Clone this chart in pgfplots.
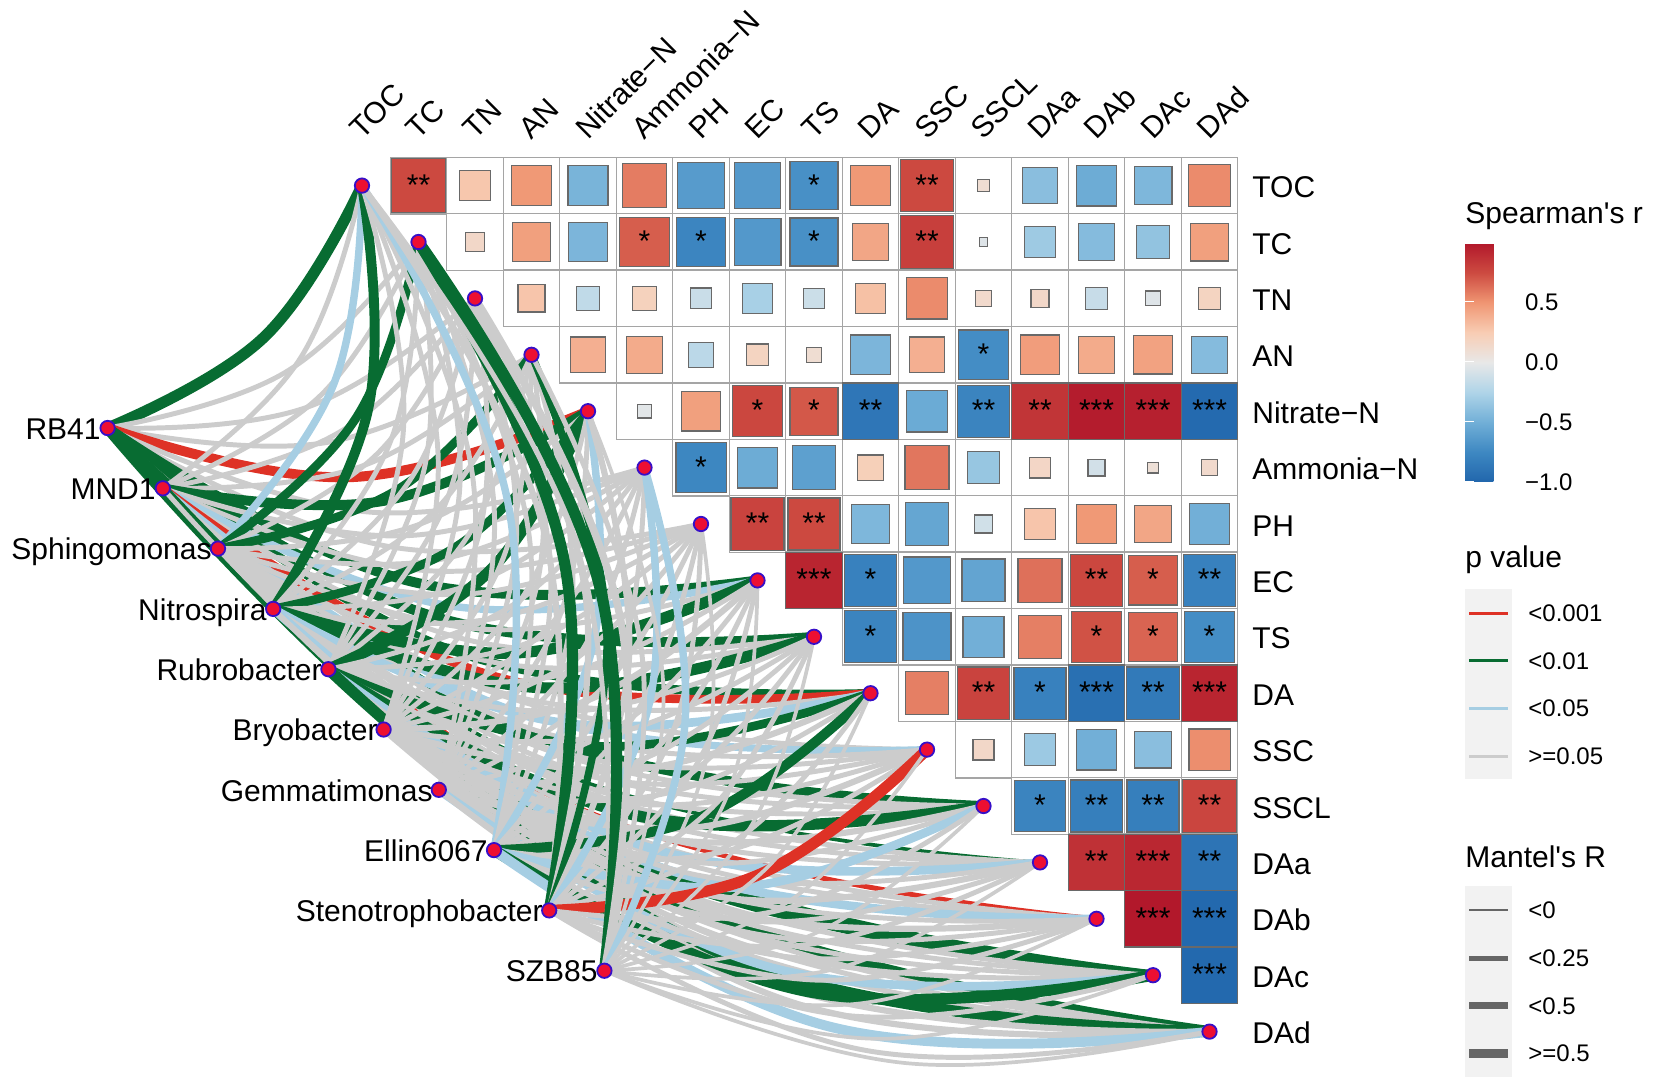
\documentclass[border=0pt]{standalone}
\usepackage{fontspec}
\setmainfont{Liberation Sans}
\usepackage{pgfplots}
\usepackage{pgfplotstable}
\pgfplotsset{compat=1.18}

\definecolor{r}{RGB}{222,50,38}
\definecolor{g}{RGB}{8,108,50}
\definecolor{b}{RGB}{166,206,227}
\definecolor{n}{RGB}{204,204,204}
\definecolor{gridc}{RGB}{165,165,165}
\definecolor{edgec}{RGB}{105,105,105}
\definecolor{panel}{RGB}{242,242,242}
\definecolor{keyc}{RGB}{102,102,102}
\definecolor{nodefill}{RGB}{237,15,50}
\definecolor{nodeedge}{RGB}{55,15,200}

\pgfplotsset{colormap={rdbu}{rgb255=(33,102,172) rgb255=(62,136,194) rgb255=(113,175,215) rgb255=(175,212,232) rgb255=(232,232,232) rgb255=(248,205,180) rgb255=(240,150,115) rgb255=(205,75,65) rgb255=(178,24,43)}}

\newcommand\lab{\fontsize{15}{18}\selectfont}
\newcommand\keylab{\fontsize{12}{14}\selectfont}

% x y in picture pixels, r = Spearman, s = square side as share of the cell
\pgfplotstableread{
x y r s
418.5 185.6 .75 .95
475 185.6 .27 .54
531.5 185.6 .48 .70
588 185.6 -.47 .71
644.5 185.6 .58 .78
701 185.6 -.63 .82
757.5 185.6 -.64 .82
814 185.6 -.70 .85
870.5 185.6 .48 .70
927 185.6 .75 .93
983.5 185.6 .10 .21
1040 185.6 -.40 .63
1096.5 185.6 -.52 .72
1153 185.6 -.45 .67
1209.5 185.6 .53 .74
475 242 .15 .33
531.5 242 .45 .68
588 242 -.46 .70
644.5 242 .68 .88
701 242 -.77 .88
757.5 242 -.65 .83
814 242 -.70 .85
870.5 242 .42 .65
927 242 .80 .93
983.5 242 -.05 .15
1040 242 -.32 .56
1096.5 242 -.42 .65
1153 242 -.37 .59
1209.5 242 .45 .67
531.5 298.4 .28 .48
588 298.4 -.18 .42
644.5 298.4 .20 .42
701 298.4 -.14 .37
757.5 298.4 -.28 .53
814 298.4 -.13 .36
870.5 298.4 .30 .53
927 298.4 .53 .73
983.5 298.4 .13 .29
1040 298.4 .15 .32
1096.5 298.4 -.15 .40
1153 298.4 -.05 .26
1209.5 298.4 .18 .40
588 354.8 .38 .63
644.5 354.8 .40 .65
701 354.8 -.20 .44
757.5 354.8 .18 .38
814 354.8 .10 .27
870.5 354.8 -.46 .70
927 354.8 .38 .63
983.5 354.8 -.72 .88
1040 354.8 .46 .70
1096.5 354.8 .40 .65
1153 354.8 .44 .68
1209.5 354.8 -.42 .65
644.5 411.2 -.03 .24
701 411.2 .45 .70
757.5 411.2 .76 .90
814 411.2 .70 .85
870.5 411.2 -.88 1
927 411.2 -.53 .74
983.5 411.2 -.78 .92
1040 411.2 .85 1
1096.5 411.2 .97 1
1153 411.2 .95 1
1209.5 411.2 -.97 1
701 467.6 -.76 .89
757.5 467.6 -.52 .72
814 467.6 -.60 .77
870.5 467.6 .22 .45
927 467.6 .60 .78
983.5 467.6 -.35 .56
1040 467.6 .16 .37
1096.5 467.6 -.10 .30
1153 467.6 .08 .19
1209.5 467.6 .13 .29
757.5 524 .78 .94
814 524 .75 .92
870.5 524 -.45 .68
927 524 -.56 .76
983.5 524 -.11 .32
1040 524 .28 .54
1096.5 524 .48 .70
1153 524 .42 .66
1209.5 524 -.50 .72
814 580.4 .93 1
870.5 580.4 -.80 .92
927 580.4 -.65 .83
983.5 580.4 -.57 .76
1040 580.4 .62 .78
1096.5 580.4 .76 .92
1153 580.4 .68 .87
1209.5 580.4 -.80 .92
870.5 636.8 -.78 .92
927 636.8 -.68 .85
983.5 636.8 -.50 .73
1040 636.8 .57 .77
1096.5 636.8 .72 .90
1153 636.8 .66 .87
1209.5 636.8 -.72 .90
927 693.2 .57 .76
983.5 693.2 .78 .93
1040 693.2 -.80 .92
1096.5 693.2 -.93 1
1153 693.2 -.85 .93
1209.5 693.2 .93 1
983.5 749.6 .15 .37
1040 749.6 -.33 .56
1096.5 749.6 -.50 .72
1153 749.6 -.40 .65
1209.5 749.6 .52 .73
1040 806 -.78 .90
1096.5 806 -.82 .92
1153 806 -.82 .92
1209.5 806 .77 .95
1096.5 862.4 .87 1
1153 862.4 .92 1
1209.5 862.4 -.90 1
1153 918.8 .99 1
1209.5 918.8 -.98 1
1209.5 975.2 -.98 1
}\cells

\pgfplotstableread{
x y t
418.5 185.6 **
814 185.6 *
927 185.6 **
644.5 242 *
701 242 *
814 242 *
927 242 **
983.5 354.8 *
757.5 411.2 *
814 411.2 *
870.5 411.2 **
983.5 411.2 **
1040 411.2 **
1096.5 411.2 ***
1153 411.2 ***
1209.5 411.2 ***
701 467.6 *
757.5 524 **
814 524 **
814 580.4 ***
870.5 580.4 *
1096.5 580.4 **
1153 580.4 *
1209.5 580.4 **
870.5 636.8 *
1096.5 636.8 *
1153 636.8 *
1209.5 636.8 *
983.5 693.2 **
1040 693.2 *
1096.5 693.2 ***
1153 693.2 **
1209.5 693.2 ***
1040 806 *
1096.5 806 **
1153 806 **
1209.5 806 **
1096.5 862.4 **
1153 862.4 ***
1209.5 862.4 **
1153 918.8 ***
1209.5 918.8 ***
1209.5 975.2 ***
}\stars

\pgfplotstableread{
x y
362 185.6
418.5 242
475 298.4
531.5 354.8
588 411.2
644.5 467.6
701 524
757.5 580.4
814 636.8
870.5 693.2
927 749.6
983.5 806
1040 862.4
1096.5 918.8
1153 975.2
1209.5 1031.6
107.6 428
162.8 488.3
218 548.6
273.2 608.9
328.4 669.2
383.6 729.5
438.8 789.8
494 850.1
549.2 910.4
604.4 970.7
}\nodepoints

% environment ends of the Mantel links
\def\eA{362,185.6}\def\eB{418.5,242}\def\eC{475,298.4}\def\eD{531.5,354.8}
\def\eE{588,411.2}\def\eF{644.5,467.6}\def\eG{701,524}\def\eH{757.5,580.4}
\def\eI{814,636.8}\def\eJ{870.5,693.2}\def\eK{927,749.6}\def\eL{983.5,806}
\def\eM{1040,862.4}\def\eN{1096.5,918.8}\def\eO{1153,975.2}\def\eP{1209.5,1031.6}
% one link: colour, width class, point on the bow, end
\newcommand\E[4]{\edef\tmp{\noexpand\addplot[color=#1,line width=#2*0.62pt,smooth,tension=0.7,forget plot] coordinates {(\st)(#3)(#4)};}\tmp}

\begin{document}
\begin{tikzpicture}
\path[use as bounding box] (0,0) rectangle (827pt,541.5pt);
\begin{axis}[
    scale only axis, width=827pt, height=541.5pt,
    xmin=0, xmax=1654, ymin=0, ymax=1083, y dir=reverse,
    hide axis, clip=false,
    colormap name=rdbu, point meta min=-1, point meta max=0.99,
    colorbar,
    colorbar style={
        at={(0.88573,0.77562)}, anchor=north west, xshift=0pt,
        scale only axis, width=23.5pt, height=119.5pt,
        y dir=normal,
        ytick={-1,-0.5,0,0.5}, yticklabels={−1.0,−0.5,0.0,0.5},
        ytick pos=both, yticklabel pos=right,
        tick align=inside, major tick length=4.7pt,
        tick style={draw=white,line width=0.5pt},
        axis line style={draw=none},
        yticklabel style={font=\keylab,xshift=3pt},
    },
]
% grid of cells
\addplot[only marks,mark=square*,mark size=14.125pt,
    mark options={draw=gridc,fill=white,line width=0.7pt},forget plot]
    table[x=x,y=y] {\cells};
% squares
\addplot[scatter,only marks,mark=square*,scatter src=explicit,
    mark options={line width=0.6pt},
    scatter/use mapped color={draw=edgec,fill=mapped color},
    visualization depends on={14.1*\thisrow{s} \as \ms},
    scatter/@pre marker code/.append style={/tikz/mark size=\ms pt},forget plot]
    table[x=x,y=y,meta=r] {\cells};
\addplot[only marks,mark=none,point meta=explicit symbolic,nodes near coords,
    nodes near coords align=center,
    every node near coord/.append style={font=\lab,yshift=0.4pt,inner sep=0pt},forget plot]
    table[x=x,y=y,meta=t] {\stars};

% RB41
\def\st{107.6,428}
\E g9{263.9,337.3}\eA \E n4{285.4,372.3}\eB \E n4{306.9,407.3}\eC \E n4{328.3,442.2}\eD
\E r8{349.8,477.2}\eE \E n4{371.3,512.2}\eF \E n4{392.8,547.2}\eG \E g8{414.3,582.2}\eH
\E g8{435.7,617.1}\eI \E g7{457.2,652.1}\eJ \E n4{478.7,687.1}\eK \E g8{500.2,722.1}\eL
\E g3{521.7,757.1}\eM \E r4{543.1,792}\eN \E g8{564.6,827}\eO \E g9{586.1,862}\eP
% MND1
\def\st{162.8,488.3}
\E n4{298.7,360.8}\eA \E n4{320.2,395.8}\eB \E n4{341.7,430.8}\eC \E n4{363.1,465.7}\eD
\E g8{384.6,500.7}\eE \E n4{406.1,535.7}\eF \E n4{427.6,570.7}\eG \E b6{449.1,605.7}\eH
\E n4{470.5,640.6}\eI \E r7{492,675.6}\eJ \E b6{513.5,710.6}\eK \E n4{535,745.6}\eL
\E n4{556.5,780.6}\eM \E n4{577.9,815.5}\eN \E g8{599.4,850.5}\eO \E n4{620.9,885.5}\eP
% Sphingomonas
\def\st{218,548.6}
\E b6{333.6,384.4}\eA \E g7{355.1,419.4}\eB \E n4{376.6,454.4}\eC \E g7{398,489.3}\eD
\E n4{419.5,524.3}\eE \E n4{441,559.3}\eF \E n4{462.5,594.3}\eG \E n4{484,629.3}\eH
\E n4{505.4,664.2}\eI \E n4{526.9,699.2}\eJ \E n4{548.4,734.2}\eK \E n4{569.9,769.2}\eL
\E n4{591.4,804.2}\eM \E n4{612.8,839.1}\eN \E n4{634.3,874.1}\eO \E n4{655.8,909.1}\eP
% Nitrospira
\def\st{273.2,608.9}
\E g8{368.4,407.9}\eA \E n4{389.9,442.9}\eB \E n4{411.4,477.9}\eC \E n4{432.8,512.8}\eD
\E g7{454.3,547.8}\eE \E n4{475.8,582.8}\eF \E n4{497.3,617.8}\eG \E g9{518.8,652.8}\eH
\E g9{540.2,687.7}\eI \E b7{561.7,722.7}\eJ \E n4{583.2,757.7}\eK \E n4{604.7,792.7}\eL
\E n4{626.2,827.7}\eM \E b7{647.6,862.6}\eN \E n4{669.1,897.6}\eO \E n4{690.6,932.6}\eP
% Rubrobacter
\def\st{328.4,669.2}
\E n4{403.3,431.4}\eA \E n4{424.8,466.4}\eB \E n4{446.3,501.4}\eC \E n4{467.7,536.3}\eD
\E g9{489.2,571.3}\eE \E n4{510.7,606.3}\eF \E n4{532.2,641.3}\eG \E n4{553.7,676.3}\eH
\E n4{575.1,711.2}\eI \E g7{596.6,746.2}\eJ \E n4{618.1,781.2}\eK \E g9{639.6,816.2}\eL
\E b7{661.1,851.2}\eM \E n4{682.5,886.1}\eN \E n4{704,921.1}\eO \E g9{725.5,956.1}\eP
% Bryobacter
\def\st{383.6,729.5}
\E n4{438.1,455}\eA \E n4{459.6,490}\eB \E n4{481.1,525}\eC \E n4{502.5,559.9}\eD
\E n4{524,594.9}\eE \E n4{545.5,629.9}\eF \E n4{567,664.9}\eG \E n5{588.5,699.9}\eH
\E n4{609.9,734.8}\eI \E n5{631.4,769.8}\eJ \E n4{652.9,804.8}\eK \E n5{674.4,839.8}\eL
\E n4{695.9,874.8}\eM \E n5{717.3,909.7}\eN \E n4{738.8,944.7}\eO \E n5{760.3,979.7}\eP
% Gemmatimonas
\def\st{438.8,789.8}
\E n4{472.9,478.5}\eA \E n4{494.4,513.5}\eB \E n4{515.9,548.5}\eC \E n4{537.3,583.4}\eD
\E n4{558.8,618.4}\eE \E n4{580.3,653.4}\eF \E n4{601.8,688.4}\eG \E n4{623.3,723.4}\eH
\E n4{644.7,758.3}\eI \E n4{666.2,793.3}\eJ \E n5{687.7,828.3}\eK \E n4{709.2,863.3}\eL
\E n5{730.7,898.3}\eM \E n4{752.1,933.2}\eN \E b7{773.6,968.2}\eO \E n5{795.1,1003.2}\eP
% Ellin6067
\def\st{494,850.1}
\E b6{507.8,502}\eA \E n4{529.3,537}\eB \E n4{550.8,572}\eC \E n4{572.2,606.9}\eD
\E b6{593.7,641.9}\eE \E n4{615.2,676.9}\eF \E n4{636.7,711.9}\eG \E n4{658.2,746.9}\eH
\E n4{679.6,781.8}\eI \E g8{701.1,816.8}\eJ \E n4{722.6,851.8}\eK \E b7{744.1,886.8}\eL
\E n4{765.6,921.8}\eM \E n4{787,956.7}\eN \E g9{808.5,991.7}\eO \E b8{830,1026.7}\eP
% Stenotrophobacter
\def\st{549.2,910.4}
\E n5{542.6,525.5}\eA \E g9{564.1,560.5}\eB \E n5{585.6,595.5}\eC \E g6{607,630.4}\eD
\E n5{628.5,665.4}\eE \E b6{650,700.4}\eF \E n4{671.5,735.4}\eG \E n4{693,770.4}\eH
\E n4{714.4,805.3}\eI \E n4{735.9,840.3}\eJ \E r9{757.4,875.3}\eK \E n4{778.9,910.3}\eL
\E n4{800.4,945.3}\eM \E n4{821.8,980.2}\eN \E n4{843.3,1015.2}\eO \E n4{864.8,1050.2}\eP
% SZB85
\def\st{604.4,970.7}
\E n4{577.5,549.1}\eA \E g9{599,584.1}\eB \E n6{620.5,619.1}\eC \E n4{641.9,654}\eD
\E n3{663.4,689}\eE \E b6{684.9,724}\eF \E n3{706.4,759}\eG \E n3{727.9,794}\eH
\E n3{749.3,828.9}\eI \E n3{770.8,863.9}\eJ \E n3{792.3,898.9}\eK \E n3{813.8,933.9}\eL
\E n3{835.3,968.9}\eM \E n3{856.7,1003.8}\eN \E n3{878.2,1038.8}\eO \E n3{905,1063}\eP

\addplot[only marks,mark=*,mark size=3.6pt,
    mark options={fill=nodefill,draw=nodeedge,line width=0.9pt},forget plot]
    table[x=x,y=y] {\nodepoints};

% species labels
\node[anchor=base east,font=\lab,inner sep=0pt] at (axis cs:101,439) {RB41};
\node[anchor=base east,font=\lab,inner sep=0pt] at (axis cs:156,499) {MND1};
\node[anchor=base east,font=\lab,inner sep=0pt] at (axis cs:212,559.6) {Sphingomonas};
\node[anchor=base east,font=\lab,inner sep=0pt] at (axis cs:267,620) {Nitrospira};
\node[anchor=base east,font=\lab,inner sep=0pt] at (axis cs:322,680) {Rubrobacter};
\node[anchor=base east,font=\lab,inner sep=0pt] at (axis cs:378,740.5) {Bryobacter};
\node[anchor=base east,font=\lab,inner sep=0pt] at (axis cs:433,801) {Gemmatimonas};
\node[anchor=base east,font=\lab,inner sep=0pt] at (axis cs:488,861) {Ellin6067};
\node[anchor=base east,font=\lab,inner sep=0pt] at (axis cs:543,921.4) {Stenotrophobacter};
\node[anchor=base east,font=\lab,inner sep=0pt] at (axis cs:598,981.7) {SZB85};

% row labels
\node[anchor=base west,font=\lab,inner sep=0pt] at (axis cs:1252,197.5) {TOC};
\node[anchor=base west,font=\lab,inner sep=0pt] at (axis cs:1252,254) {TC};
\node[anchor=base west,font=\lab,inner sep=0pt] at (axis cs:1252,310.4) {TN};
\node[anchor=base west,font=\lab,inner sep=0pt] at (axis cs:1252,366.7) {AN};
\node[anchor=base west,font=\lab,inner sep=0pt] at (axis cs:1252,423) {Nitrate−N};
\node[anchor=base west,font=\lab,inner sep=0pt] at (axis cs:1252,479.5) {Ammonia−N};
\node[anchor=base west,font=\lab,inner sep=0pt] at (axis cs:1252,536) {PH};
\node[anchor=base west,font=\lab,inner sep=0pt] at (axis cs:1252,592.3) {EC};
\node[anchor=base west,font=\lab,inner sep=0pt] at (axis cs:1252,648.7) {TS};
\node[anchor=base west,font=\lab,inner sep=0pt] at (axis cs:1252,705) {DA};
\node[anchor=base west,font=\lab,inner sep=0pt] at (axis cs:1252,761.5) {SSC};
\node[anchor=base west,font=\lab,inner sep=0pt] at (axis cs:1252,818) {SSCL};
\node[anchor=base west,font=\lab,inner sep=0pt] at (axis cs:1252,874.3) {DAa};
\node[anchor=base west,font=\lab,inner sep=0pt] at (axis cs:1252,930.7) {DAb};
\node[anchor=base west,font=\lab,inner sep=0pt] at (axis cs:1252,987) {DAc};
\node[anchor=base west,font=\lab,inner sep=0pt] at (axis cs:1252,1043.5) {DAd};

% column labels
\node[anchor=base west,rotate=45,font=\lab,inner sep=0pt] at (axis cs:362,141) {TOC};
\node[anchor=base west,rotate=45,font=\lab,inner sep=0pt] at (axis cs:418.5,141) {TC};
\node[anchor=base west,rotate=45,font=\lab,inner sep=0pt] at (axis cs:475,141) {TN};
\node[anchor=base west,rotate=45,font=\lab,inner sep=0pt] at (axis cs:531.5,141) {AN};
\node[anchor=base west,rotate=45,font=\lab,inner sep=0pt] at (axis cs:588,141) {Nitrate−N};
\node[anchor=base west,rotate=45,font=\lab,inner sep=0pt] at (axis cs:644.5,141) {Ammonia−N};
\node[anchor=base west,rotate=45,font=\lab,inner sep=0pt] at (axis cs:701,141) {PH};
\node[anchor=base west,rotate=45,font=\lab,inner sep=0pt] at (axis cs:757.5,141) {EC};
\node[anchor=base west,rotate=45,font=\lab,inner sep=0pt] at (axis cs:814,141) {TS};
\node[anchor=base west,rotate=45,font=\lab,inner sep=0pt] at (axis cs:870.5,141) {DA};
\node[anchor=base west,rotate=45,font=\lab,inner sep=0pt] at (axis cs:927,141) {SSC};
\node[anchor=base west,rotate=45,font=\lab,inner sep=0pt] at (axis cs:983.5,141) {SSCL};
\node[anchor=base west,rotate=45,font=\lab,inner sep=0pt] at (axis cs:1040,141) {DAa};
\node[anchor=base west,rotate=45,font=\lab,inner sep=0pt] at (axis cs:1096.5,141) {DAb};
\node[anchor=base west,rotate=45,font=\lab,inner sep=0pt] at (axis cs:1153,141) {DAc};
\node[anchor=base west,rotate=45,font=\lab,inner sep=0pt] at (axis cs:1209.5,141) {DAd};

% legends
\node[anchor=base west,font=\lab,inner sep=0pt] at (axis cs:1465,223) {Spearman\textquotesingle s r};
\node[anchor=base west,font=\lab,inner sep=0pt] at (axis cs:1465,567) {p value};
\node[anchor=base west,font=\lab,inner sep=0pt] at (axis cs:1465,867) {Mantel\textquotesingle s R};

\addplot[fill=panel,draw=none,forget plot] coordinates {(1465,589)(1512,589)(1512,779)(1465,779)} --cycle;
\addplot[fill=panel,draw=none,forget plot] coordinates {(1465,886)(1512,886)(1512,1077)(1465,1077)} --cycle;
\addplot[color=r,line width=1.5pt,forget plot] coordinates {(1469,613)(1508,613)};
\addplot[color=g,line width=1.5pt,forget plot] coordinates {(1469,660.5)(1508,660.5)};
\addplot[color=b,line width=1.5pt,forget plot] coordinates {(1469,708)(1508,708)};
\addplot[color=n,line width=1.5pt,forget plot] coordinates {(1469,756)(1508,756)};
\addplot[color=keyc,line width=1pt,forget plot] coordinates {(1469,910)(1508,910)};
\addplot[color=keyc,line width=2.5pt,forget plot] coordinates {(1469,958)(1508,958)};
\addplot[color=keyc,line width=3.5pt,forget plot] coordinates {(1469,1005.5)(1508,1005.5)};
\addplot[color=keyc,line width=4.5pt,forget plot] coordinates {(1469,1053)(1508,1053)};

\node[anchor=base west,font=\keylab,inner sep=0pt] at (axis cs:1528,621.5) {<0.001};
\node[anchor=base west,font=\keylab,inner sep=0pt] at (axis cs:1528,669) {<0.01};
\node[anchor=base west,font=\keylab,inner sep=0pt] at (axis cs:1528,716.5) {<0.05};
\node[anchor=base west,font=\keylab,inner sep=0pt] at (axis cs:1528,764.5) {>=0.05};
\node[anchor=base west,font=\keylab,inner sep=0pt] at (axis cs:1528,918.5) {<0};
\node[anchor=base west,font=\keylab,inner sep=0pt] at (axis cs:1528,966.5) {<0.25};
\node[anchor=base west,font=\keylab,inner sep=0pt] at (axis cs:1528,1014) {<0.5};
\node[anchor=base west,font=\keylab,inner sep=0pt] at (axis cs:1528,1061.5) {>=0.5};
\end{axis}
\end{tikzpicture}
\end{document}
